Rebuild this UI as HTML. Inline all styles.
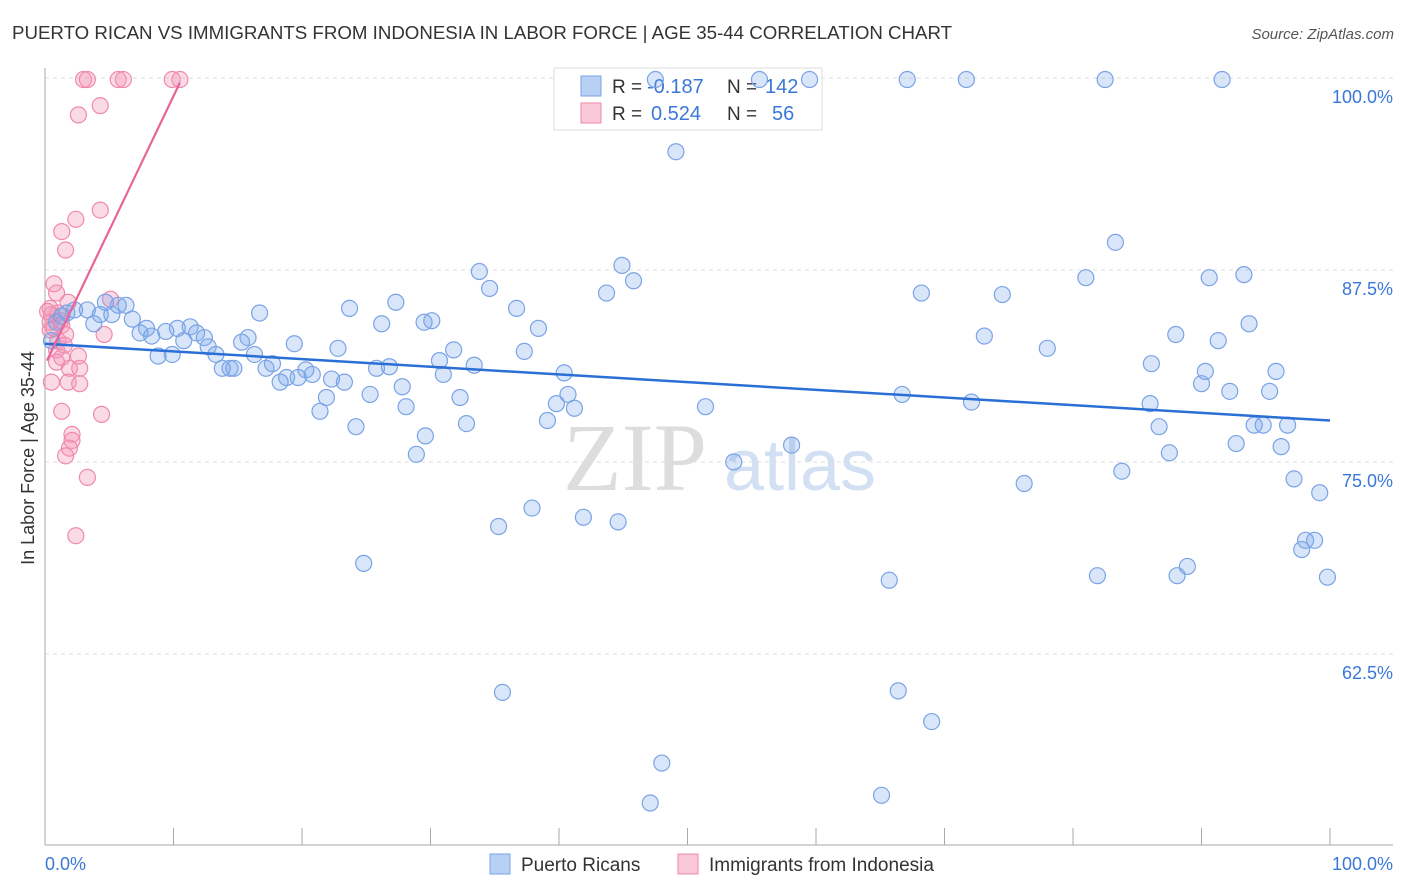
<!DOCTYPE html>
<html><head><meta charset="utf-8">
<style>
body{margin:0;background:#fff;font-family:"Liberation Sans",sans-serif;}
#wrap{position:relative;width:1406px;height:892px;overflow:hidden;}
</style></head>
<body>
<div id="wrap">
<svg id="svg" width="1406" height="892" xmlns="http://www.w3.org/2000/svg">
<text x="12" y="39" font-size="18.7" fill="#333">PUERTO RICAN VS IMMIGRANTS FROM INDONESIA IN LABOR FORCE | AGE 35-44 CORRELATION CHART</text>
<text x="1394" y="39" font-size="15" fill="#555" font-style="italic" text-anchor="end">Source: ZipAtlas.com</text>
<text x="34" y="458" font-size="18" fill="#333" text-anchor="middle" transform="rotate(-90 34 458)">In Labor Force | Age 35-44</text>
<g>
<text x="635" y="490" font-size="96" fill="#ddd" font-family="Liberation Serif,serif" text-anchor="middle">ZIP</text>
<text x="800" y="490" font-size="72" fill="#d3e0f3" text-anchor="middle">atlas</text>
</g>
<g id="grid"></g>
<g id="axes"></g>
<g>
<rect x="554" y="68" width="268" height="62" fill="#fff" stroke="#ddd"/>
<rect x="581" y="76" width="20" height="20" fill="#b8d0f3" stroke="#7aa3e6"/>
<rect x="581" y="103" width="20" height="20" fill="#fac8d8" stroke="#f08aaa"/>
<text x="612" y="93" font-size="19" fill="#333">R =</text>
<text x="647" y="93" font-size="20" fill="#3a78d8">-0.187</text>
<text x="727" y="93" font-size="19" fill="#333">N =</text>
<text x="765" y="93" font-size="20" fill="#3a78d8">142</text>
<text x="612" y="120" font-size="19" fill="#333">R =</text>
<text x="651" y="120" font-size="20" fill="#3a78d8">0.524</text>
<text x="727" y="120" font-size="19" fill="#333">N =</text>
<text x="772" y="120" font-size="20" fill="#3a78d8">56</text>
</g>
<g id="pinkPts"></g>
<g id="bluePts"></g>
<g id="lines"></g>
<g>
<rect x="490" y="854" width="20" height="20" fill="#b8d0f3" stroke="#7aa3e6"/>
<text x="521" y="871" font-size="19" fill="#333">Puerto Ricans</text>
<rect x="678" y="854" width="20" height="20" fill="#fac8d8" stroke="#f08aaa"/>
<text x="709" y="871" font-size="19" fill="#333">Immigrants from Indonesia</text>
</g>
</svg>
</div>
<script>
const yTicks=[100,87.5,75,62.5];
const yTickLabels=["100.0%","87.5%","75.0%","62.5%"];
const xLabels=["0.0%","100.0%"];
const blueX=[0.5,0.9,1.3,1.7,2.3,3.3,3.8,4.3,4.7,5.2,5.7,6.3,6.8,7.4,7.9,8.3,8.8,9.4,9.9,10.3,10.8,11.3,11.8,12.4,12.7,13.3,13.8,14.4,14.7,15.3,15.8,16.3,16.7,17.2,17.7,18.3,18.8,19.4,19.7,20.3,20.8,21.4,21.9,22.3,22.8,23.3,23.7,24.2,24.8,25.3,25.8,26.2,26.8,27.3,27.8,28.1,28.9,29.5,29.6,30.1,30.7,31.0,31.8,32.3,32.8,33.4,33.8,34.6,35.3,35.6,36.7,37.3,37.9,38.4,39.1,39.8,40.4,40.7,41.2,41.9,43.7,44.6,44.9,45.8,47.1,48.0,49.1,51.4,53.6,58.1,59.5,65.1,65.7,66.4,66.7,67.1,68.2,69.0,71.7,72.1,73.1,74.5,76.2,78.0,81.0,81.9,82.5,83.3,83.8,86.0,86.1,86.7,87.5,88.0,88.1,88.9,90.0,90.3,90.6,91.3,91.6,92.2,92.7,93.3,93.7,94.1,94.8,95.3,95.8,96.2,96.7,97.2,97.8,98.1,98.8,99.2,99.8,55.6,47.5];
const blueY=[82.9,84.1,84.5,84.7,84.9,84.9,84.0,84.6,85.4,84.6,85.2,85.2,84.3,83.4,83.7,83.2,81.9,83.5,82.0,83.7,82.9,83.8,83.4,83.1,82.5,82.0,81.1,81.1,81.1,82.8,83.1,82.0,84.7,81.1,81.4,80.2,80.5,82.7,80.5,81.0,80.7,78.3,79.2,80.4,82.4,80.2,85.0,77.3,68.4,79.4,81.1,84.0,81.2,85.4,79.9,78.6,75.5,84.1,76.7,84.2,81.6,80.7,82.3,79.2,77.5,81.3,87.4,86.3,70.8,60.0,85.0,82.2,72.0,83.7,77.7,78.8,80.8,79.4,78.5,71.4,86.0,71.1,87.8,86.8,52.8,55.4,95.2,78.6,75.0,76.1,99.9,53.3,67.3,60.1,79.4,99.9,86.0,58.1,99.9,78.9,83.2,85.9,73.6,82.4,87.0,67.6,99.9,89.3,74.4,78.8,81.4,77.3,75.6,83.3,67.6,68.2,80.1,80.9,87.0,82.9,99.9,79.6,76.2,87.2,84.0,77.4,77.4,79.6,80.9,76.0,77.4,73.9,69.3,69.9,69.9,73.0,67.5,99.9,99.9];
const pinkX=[3.0,3.3,5.7,6.1,9.9,10.5,4.3,2.6,4.3,2.4,1.3,1.6,0.7,0.9,1.8,5.1,0.4,1.0,0.5,1.3,0.4,1.0,4.6,1.6,0.9,1.3,2.6,0.9,1.9,2.7,0.5,1.8,2.7,1.3,4.4,2.1,2.1,1.9,1.6,3.3,2.4,0.4,0.7,1.2,0.2,1.5];
const pinkY=[99.9,99.9,99.9,99.9,99.9,99.9,98.2,97.6,91.4,90.8,90.0,88.8,86.6,86.0,85.4,85.6,85.0,84.7,84.6,83.9,83.6,82.9,83.3,83.3,82.3,81.8,81.9,81.5,81.1,81.1,80.2,80.2,80.1,78.3,78.1,76.8,76.4,75.9,75.4,74.0,70.2,84.1,83.7,84.2,84.8,82.6];
const blueTrendX=[0,100];
const blueTrendY=[82.7,77.7];
const pinkTrendX=[0.15,10.5];
const pinkTrendY=[81.6,99.7];

const NS="http://www.w3.org/2000/svg";
const X0=45,X1=1330,YTOP=78,PXPER=192/12.5;
function xs(v){return X0+(X1-X0)*v/100;}
function ys(v){return YTOP+(100-v)*PXPER;}
function mk(tag,attrs,parent){const e=document.createElementNS(NS,tag);for(const k in attrs)e.setAttribute(k,attrs[k]);parent.appendChild(e);return e;}

const grid=document.getElementById('grid');
yTicks.forEach((t,i)=>{
  const l=mk('line',{x1:X0,x2:1393,y1:ys(t),y2:ys(t),stroke:'#ddd','stroke-dasharray':'4,4'},grid);
  
  
  const tx=mk('text',{x:1393,y:ys(t)+25,'font-size':18,fill:'#3a78d8','text-anchor':'end'},grid);
  tx.textContent=yTickLabels[i];
  
  
});
const axes=document.getElementById('axes');
let a=mk('line',{x1:X0,x2:X0,y1:68,y2:845,stroke:'#aaa'},axes);


a=mk('line',{x1:X0,x2:1393,y1:845,y2:845,stroke:'#aaa'},axes);


for(let i=0;i<=10;i++){
  const t=mk('line',{x1:xs(i*10),x2:xs(i*10),y1:828,y2:845,stroke:'#aaa'},axes);
  
  
}
let xl=mk('text',{x:45,y:870,'font-size':18,fill:'#3a78d8'},axes);xl.textContent=xLabels[0];


xl=mk('text',{x:1393,y:870,'font-size':18,fill:'#3a78d8','text-anchor':'end'},axes);xl.textContent=xLabels[1];



const pg=document.getElementById('pinkPts');
pinkX.forEach((v,i)=>{
  const c=mk('circle',{cx:xs(v),cy:ys(pinkY[i]),r:8,fill:'rgba(244,150,185,0.35)',stroke:'#f08aaa','stroke-width':1.2},pg);
  
  
});
const bg=document.getElementById('bluePts');
blueX.forEach((v,i)=>{
  const c=mk('circle',{cx:xs(v),cy:ys(blueY[i]),r:8,fill:'rgba(120,165,235,0.28)',stroke:'#7aa3e6','stroke-width':1.2},bg);
  
  
});
const lg=document.getElementById('lines');
let tl=mk('line',{x1:xs(blueTrendX[0]),y1:ys(blueTrendY[0]),x2:xs(blueTrendX[1]),y2:ys(blueTrendY[1]),stroke:'#2a6fd6','stroke-width':2.5},lg);


tl=mk('line',{x1:xs(pinkTrendX[0]),y1:ys(pinkTrendY[0]),x2:xs(pinkTrendX[1]),y2:ys(pinkTrendY[1]),stroke:'#e8649a','stroke-width':2.2},lg);


</script>
</body></html>
